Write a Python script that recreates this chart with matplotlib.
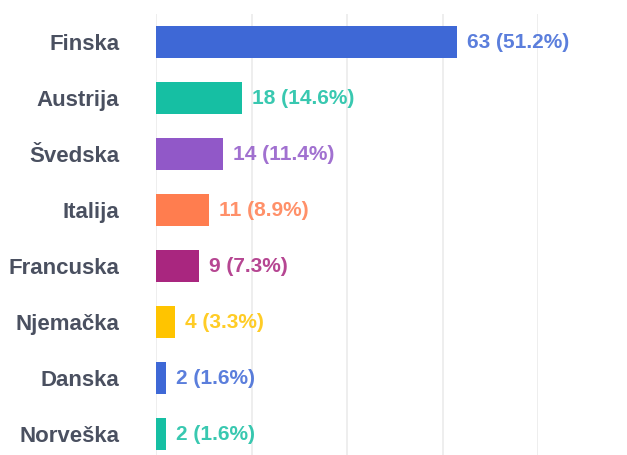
import matplotlib.pyplot as plt

countries = ["Finska", "Austrija", "Švedska", "Italija", "Francuska", "Njemačka", "Danska", "Norveška"]
counts = [63, 18, 14, 11, 9, 4, 2, 2]
percents = [51.2, 14.6, 11.4, 8.9, 7.3, 3.3, 1.6, 1.6]
colors = ["#3e68d6", "#16bfa3", "#9158c8", "#ff7d4f", "#a9267f", "#ffc400", "#3e68d6", "#16bfa3"]

plt.rcParams["font.family"] = ["Liberation Sans", "DejaVu Sans"]

fig = plt.figure(figsize=(6.27, 4.55), dpi=100)
# plot area is cropped at the bottom in the reference
ax = fig.add_axes([156 / 627, 1 - 462.5 / 455, (538 - 156) / 627, (462.5 - 14) / 455])

y = list(range(len(countries)))
ax.barh(y, counts, height=0.57, color=colors, zorder=2)

for yi, c, p, col in zip(y, counts, percents, colors):
    ax.text(c + 2.1, yi, f"{c} ({p}%)", va="center", ha="left",
            color=col, fontsize=15, fontweight="bold", alpha=0.85)

ax.set_xlim(0, 80)
ax.set_ylim(len(countries) - 0.5, -0.5)
ax.set_xticks([0, 20, 40, 60, 80])
ax.set_xticklabels([])
ax.xaxis.grid(True, color="#ebebeb", linewidth=1.2, zorder=0)
ax.tick_params(axis="x", length=0)
ax.set_yticks(y)
ax.set_yticklabels(countries, fontsize=16, fontweight="bold", color="#4a5060")
ax.tick_params(axis="y", length=0, pad=26.5)
for s in ax.spines.values():
    s.set_visible(False)

fig.savefig("out.png", dpi=100)
